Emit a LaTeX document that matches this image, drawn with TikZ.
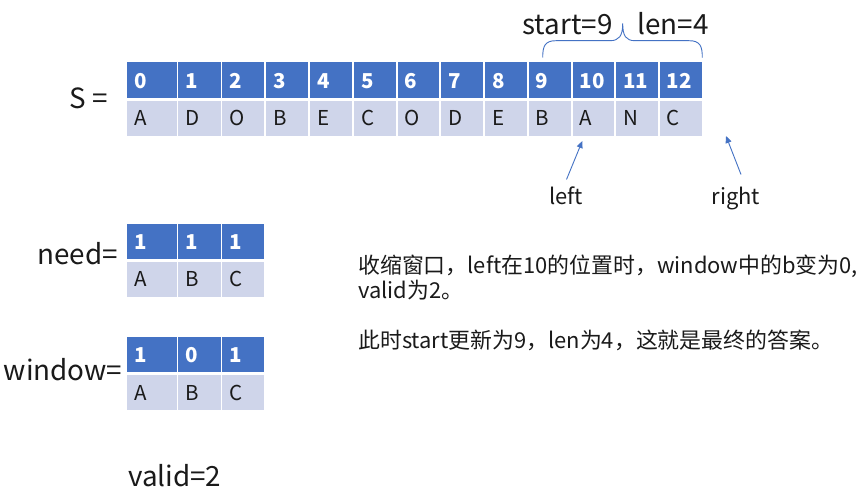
\documentclass[tikz,border=0pt]{standalone}
\usepackage{fontspec}
\setmainfont{Noto Sans CJK SC}
\definecolor{hdr}{HTML}{4472C4}
\definecolor{dat}{HTML}{CFD5EA}
\definecolor{ink}{HTML}{1A1A1A}
\usetikzlibrary{arrows.meta}
\begin{document}
\begin{tikzpicture}[x=1pt,y=-1pt,
  hcell/.style={fill=hdr, draw=white, line width=1.5pt, anchor=north west, inner sep=0pt},
  dcell/.style={fill=dat, draw=white, line width=1.5pt, anchor=north west, inner sep=0pt},
  htxt/.style={anchor=base west, inner sep=0pt, text=white, font=\fontsize{20.5}{24}\selectfont\bfseries},
  dtxt/.style={anchor=base west, inner sep=0pt, text=ink, font=\fontsize{20.5}{24}\selectfont},
  big/.style={inner sep=0pt, text=ink, font=\fontsize{27.8}{32}\selectfont},
  mid/.style={inner sep=0pt, text=ink, font=\fontsize{21.9}{25}\selectfont},
  ptr/.style={draw=hdr, line width=0.9pt, -{Triangle[length=7pt,width=6pt]}},
  brc/.style={draw=hdr, line width=0.9pt}
]
\useasboundingbox (0,0) rectangle (864,495);
\fill[white] (0,0) rectangle (864,495);

% main string S
\node[big, anchor=base west] (Slab) at (69.5,108.3) {S =};
\foreach \i/\xa/\xb/\d in {0/125.7/176.7/A,1/176.7/220.7/D,2/220.7/264.3/O,3/264.3/308.3/B,
  4/308.3/352.3/E,5/352.3/396/C,6/396/439.3/O,7/439.3/483.3/D,8/483.3/527/E,
  9/527/571/B,10/571/614.3/A,11/614.3/658/N,12/658/701.7/C}{
  \node[hcell, minimum width={\xb-\xa}, minimum height=37] (h\i) at (\xa,61) {};
  \node[htxt] (ht\i) at (\xa+8.5,88.5) {\i};
  \node[dcell, minimum width={\xb-\xa}, minimum height=37] (d\i) at (\xa,99) {};
  \node[dtxt] (dt\i) at (\xa+8.5,125) {\d};
}

% brace and labels
\node[big, anchor=base] (startlab) at (567.5,35) {start=9};
\node[big, anchor=base] (lenlab) at (673,35) {len=4};
\coordinate (bl) at (542.7,57.5);
\coordinate (bm) at (622.7,23.5);
\coordinate (br) at (702.3,57.5);
\draw[brc] (bl) .. controls (542.7,46) and (545,40.7) .. (556,40.7) -- (610,40.7)
  .. controls (619,40.7) and (622.7,36) .. (bm)
  .. controls (622.7,36) and (626,40.7) .. (635,40.7) -- (689,40.7)
  .. controls (700,40.7) and (702.3,46) .. (br);

% pointers
\node[mid, anchor=base] (leftlab) at (566,204) {left};
\node[mid, anchor=base] (rightlab) at (736,204) {right};
\coordinate (ltip) at (582.3,141);
\coordinate (rtip) at (726,136);
\coordinate (lfoot) at (566.5,179.5);
\coordinate (rfoot) at (741,174.5);
\draw[ptr] (lfoot) -- (ltip);
\draw[ptr] (rfoot) -- (rtip);

% need table
\node[big, anchor=base east] (needlab) at (118,264) {need=};
\foreach \j/\xa/\xb/\v/\d in {0/125.7/176.7/1/A,1/176.7/220.7/1/B,2/220.7/264.3/1/C}{
  \node[hcell, minimum width={\xb-\xa}, minimum height=36.5] (nh\j) at (\xa,222.5) {};
  \node[htxt] (nht\j) at (\xa+8.5,249) {\v};
  \node[dcell, minimum width={\xb-\xa}, minimum height=37] (nd\j) at (\xa,260) {};
  \node[dtxt] (ndt\j) at (\xa+8.5,286.5) {\d};
}

% window table
\node[big, anchor=base east] (winlab) at (122.5,380) {window=};
\foreach \j/\xa/\xb/\v/\d in {0/125.7/176.7/1/A,1/176.7/220.7/0/B,2/220.7/264.3/1/C}{
  \node[hcell, minimum width={\xb-\xa}, minimum height=36.5] (wh\j) at (\xa,335.5) {};
  \node[htxt] (wht\j) at (\xa+8.5,362.3) {\v};
  \node[dcell, minimum width={\xb-\xa}, minimum height=37] (wd\j) at (\xa,373) {};
  \node[dtxt] (wdt\j) at (\xa+8.5,400) {\d};
}

% valid
\node[big, anchor=base west] (validlab) at (128,486.5) {valid=2};

% explanation
\node[mid, anchor=base west] (note1) at (358,273.3) {收缩窗口，left在10的位置时，window中的b变为0,};
\node[mid, anchor=base west] (note2) at (358,298.3) {valid为2。};
\node[mid, anchor=base west] (note3) at (358,348.3) {此时start更新为9，len为4，这就是最终的答案。};
\end{tikzpicture}
\end{document}
